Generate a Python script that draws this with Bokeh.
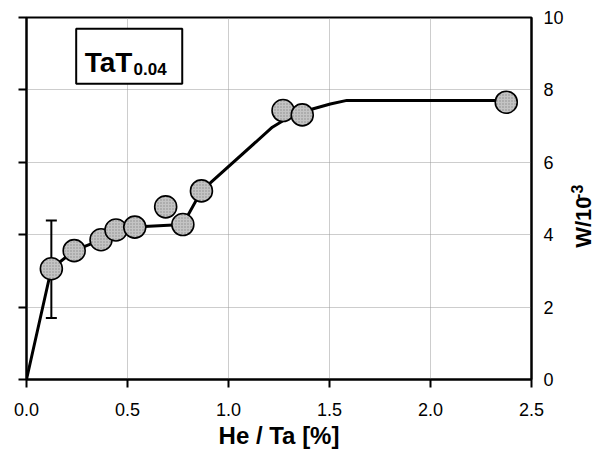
from bokeh.plotting import figure
from bokeh.layouts import row
from bokeh.models import LinearAxis, FixedTicker, NumeralTickFormatter, CustomLabelingPolicy
from bokeh.core.properties import value
from bokeh.embed import file_html
from bokeh.resources import INLINE
import math

# measured points (He/Ta [%], W/10^-3)
he_ta = [0.123, 0.236, 0.369, 0.443, 0.536, 0.689, 0.774, 0.866, 1.270, 1.365, 2.375]
w_val = [3.06, 3.56, 3.86, 4.13, 4.21, 4.77, 4.28, 5.21, 7.43, 7.31, 7.66]

# guide line through the data
fit_x = [0.0, 0.123, 0.236, 0.369, 0.443, 0.536, 0.774, 0.866, 1.217, 1.30, 1.42, 1.504, 1.586, 2.375]
fit_y = [0.0, 3.06, 3.56, 3.86, 4.13, 4.21, 4.28, 5.21, 6.97, 7.25, 7.48, 7.61, 7.71, 7.71]

# error bar of first point
err_x = [0.123]
err_lo = [1.70]
err_hi = [4.39]

x_ticks = [0.0, 0.5, 1.0, 1.5, 2.0, 2.5]
y_ticks = [0, 2, 4, 6, 8, 10]

FONT = "Liberation Sans"

p = figure(width=566, height=451, x_range=(0, 2.5), y_range=(0, 10),
           output_backend="svg", toolbar_location=None,
           y_axis_location="right",
           min_border_left=26, min_border_right=32, min_border_top=17, min_border_bottom=72)
p.background_fill_color = "white"
p.border_fill_color = "white"
p.outline_line_color = "black"
p.outline_line_width = 2

# grid
for g in (p.xgrid, p.ygrid):
    g.grid_line_color = "#9a9a9a"
    g.grid_line_dash = "1 1"
    g.grid_line_width = 1
p.xgrid.ticker = FixedTicker(ticks=x_ticks)
p.ygrid.ticker = FixedTicker(ticks=y_ticks)

# bottom axis
xa = p.xaxis[0]
xa.ticker = FixedTicker(ticks=x_ticks)
xa.formatter = NumeralTickFormatter(format="0.0")
xa.axis_line_width = 2
xa.axis_line_color = "black"
xa.major_tick_line_width = 2
xa.major_tick_out = 8
xa.major_tick_in = 0
xa.minor_tick_out = 0
xa.minor_tick_in = 0
xa.major_label_standoff = 15
xa.major_label_text_font = FONT
xa.major_label_text_font_size = "18px"
xa.major_label_text_color = "black"
xa.axis_label = "He / Ta [%]"
xa.axis_label_text_font = FONT
xa.axis_label_text_font_style = "bold"
xa.axis_label_text_font_size = "24px"
xa.axis_label_standoff = 3
xa.axis_label_text_color = "black"

# right axis (labels)
ya = p.yaxis[0]
ya.ticker = FixedTicker(ticks=y_ticks)
ya.axis_line_width = 2
ya.axis_line_color = "black"
ya.major_tick_out = 0
ya.major_tick_in = 0
ya.minor_tick_out = 0
ya.minor_tick_in = 0
ya.major_label_standoff = 12
ya.major_label_text_font = FONT
ya.major_label_text_font_size = "18px"
ya.major_label_text_color = "black"

# left axis (ticks only, no labels)
la = LinearAxis(ticker=FixedTicker(ticks=y_ticks))
la.axis_line_width = 2
la.axis_line_color = "black"
la.major_tick_line_width = 2
la.major_tick_out = 8
la.major_tick_in = 0
la.minor_tick_out = 0
la.minor_tick_in = 0
la.major_label_standoff = 0
la.major_label_policy = CustomLabelingPolicy(code="return new Set()")
p.add_layout(la, "left")

# label box
p.quad(left=[0.246], right=[0.771], bottom=[8.17], top=[9.69],
       fill_color="white", line_color="black", line_width=2)
p.text(x=[0.288], y=[8.77], text=["TaT"], text_font=value(FONT), text_font_style="bold",
       text_font_size="28px", text_baseline="alphabetic", text_align="left", text_color="black")
p.text(x=[0.530], y=[8.58], text=["0.04"], text_font=value(FONT), text_font_style="bold",
       text_font_size="17px", text_baseline="alphabetic", text_align="left", text_color="black")

# line
p.line(fit_x, fit_y, line_color="black", line_width=3)

# error bar
p.segment(x0=err_x, y0=err_lo, x1=err_x, y1=err_hi, line_color="black", line_width=2)
p.scatter(err_x + err_x, err_lo + err_hi, marker="dash", size=11, line_color="black", line_width=2)

# points
p.scatter(he_ta, w_val, marker="circle", size=22, fill_color="#c4c4c4",
          line_color="black", line_width=1.6,
          hatch_pattern=".", hatch_color="#8a8a8a", hatch_scale=3, hatch_weight=1)

# narrow strip on the right for the y-axis title (pixel coordinates)
q = figure(width=30, height=451, x_range=(0, 30), y_range=(0, 451),
           output_backend="svg", toolbar_location=None,
           min_border_left=0, min_border_right=0, min_border_top=0, min_border_bottom=0)
q.axis.visible = False
q.grid.visible = False
q.outline_line_color = None
q.background_fill_color = "white"
q.border_fill_color = "white"
q.text(x=[17], y=[164], text=["W/10"], angle=math.pi / 2, text_font=value(FONT),
       text_font_style="bold", text_font_size="22px", text_baseline="middle",
       text_align="left", text_color="black")
q.text(x=[10], y=[225], text=["-3"], angle=math.pi / 2, text_font=value(FONT),
       text_font_style="bold", text_font_size="16px", text_baseline="middle",
       text_align="left", text_color="black")

layout = row(p, q, spacing=0)
open("out.html", "w").write(file_html(layout, INLINE))
